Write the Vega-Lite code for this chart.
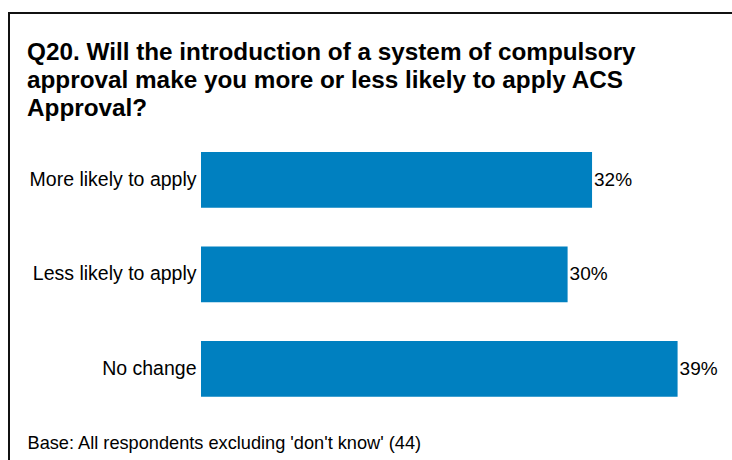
{
  "$schema": "https://vega.github.io/schema/vega-lite/v6.json",
  "autosize": "none",
  "padding": {"left": 9, "top": 13, "right": 0, "bottom": 0},
  "width": 740,
  "height": 480,
  "background": "white",
  "config": {
    "font": "Liberation Sans",
    "view": {"stroke": "#111111", "strokeWidth": 2, "fill": null}
  },
  "title": {
    "text": ["Q20. Will the introduction of a system of compulsory", "approval make you more or less likely to apply ACS", "Approval?"],
    "anchor": "start",
    "frame": "group",
    "orient": "top",
    "offset": -108,
    "dx": 18,
    "fontSize": 24.3,
    "lineHeight": 28,
    "fontWeight": "bold",
    "font": "Liberation Sans",
    "color": "#000000"
  },
  "data": {
    "values": [
      {"answer": "More likely to apply", "share": 0.32},
      {"answer": "Less likely to apply", "share": 0.30},
      {"answer": "No change", "share": 0.39}
    ]
  },
  "encoding": {
    "y": {
      "field": "answer",
      "type": "nominal",
      "sort": null,
      "scale": {
        "domain": ["More likely to apply", "Less likely to apply", "No change", ""],
        "paddingInner": 0.4106,
        "paddingOuter": 0.745,
        "align": 0.987
      },
      "axis": {
        "title": null,
        "orient": "left",
        "offset": -192,
        "domain": false,
        "ticks": false,
        "labelPadding": 5,
        "labelFontSize": 19.5,
        "labelColor": "#000000",
        "labelFont": "Liberation Sans",
        "labelLimit": 300
      }
    },
    "x": {
      "field": "share",
      "type": "quantitative",
      "scale": {"domain": [-0.15712, 0.44844], "nice": false, "zero": false},
      "axis": {
        "orient": "bottom",
        "domain": false,
        "ticks": false,
        "labels": false,
        "grid": false,
        "title": "Base: All respondents excluding 'don't know' (44)",
        "titleX": 18,
        "titleY": -45,
        "titleAlign": "left",
        "titleBaseline": "alphabetic",
        "titleFontSize": 18.2,
        "titleFontWeight": "normal",
        "titleFont": "Liberation Sans",
        "titleColor": "#000000"
      }
    }
  },
  "layer": [
    {
      "mark": {"type": "bar", "color": "#0080c0"},
      "encoding": {
        "x2": {"datum": 0}
      }
    },
    {
      "mark": {"type": "text", "align": "left", "baseline": "middle", "dx": 2, "fontSize": 19, "color": "#000000"},
      "encoding": {
        "text": {"field": "share", "type": "quantitative", "format": ".0%"}
      }
    }
  ]
}
